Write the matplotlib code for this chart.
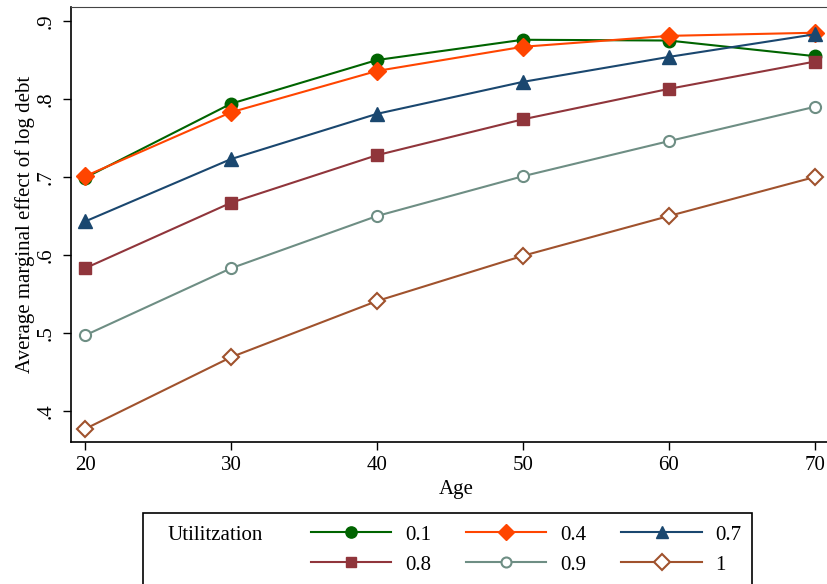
import matplotlib
matplotlib.use("Agg")
import matplotlib.pyplot as plt
from matplotlib.patches import Rectangle

plt.rcParams['font.family'] = ['Liberation Serif', 'DejaVu Serif']

# data
ages = [20, 30, 40, 50, 60, 70]
util_labels = ['0.1', '0.4', '0.7', '0.8', '0.9', '1']
u01 = [0.699, 0.794, 0.850, 0.876, 0.875, 0.855]
u04 = [0.701, 0.783, 0.836, 0.867, 0.881, 0.885]
u07 = [0.643, 0.723, 0.781, 0.822, 0.854, 0.883]
u08 = [0.583, 0.667, 0.728, 0.774, 0.813, 0.848]
u09 = [0.497, 0.583, 0.650, 0.701, 0.746, 0.790]
u10 = [0.377, 0.469, 0.541, 0.599, 0.650, 0.700]
yticks = [0.4, 0.5, 0.6, 0.7, 0.8, 0.9]
ytick_labels = ['.4', '.5', '.6', '.7', '.8', '.9']

series = [u01, u04, u07, u08, u09, u10]
colors = ['#006400', '#ff4500', '#1a476f', '#90353b', '#6e8e84', '#a0522d']
markers = ['o', 'D', '^', 's', 'o', 'D']
msizes = [9, 9.5, 10, 8.5, 8, 8.5]
filled = [True, True, True, True, False, False]

fig = plt.figure(figsize=(8.27, 5.84), dpi=100)
ax = fig.add_axes([71/827, 142/584, 770/827, 435/584])

handles = []
for ys, lab, c, m, ms, f in zip(series, util_labels, colors, markers, msizes, filled):
    h, = ax.plot(ages, ys, color=c, lw=1.5, marker=m, markersize=ms,
                 markerfacecolor=c if f else 'white',
                 markeredgecolor=c, markeredgewidth=1.5 if not f else 1,
                 label=lab, clip_on=False, zorder=3)
    handles.append(h)

ax.set_xlim(19.04, 71.8)
ax.set_ylim(0.3603, 0.918)
ax.set_xticks(ages)
ax.set_yticks(yticks)
ax.set_yticklabels(ytick_labels, rotation=90, va='center')
ax.tick_params(axis='both', direction='out', length=6, width=1, labelsize=15, pad=4)
ax.tick_params(axis='y', pad=5)
ax.spines['right'].set_visible(False)
ax.spines['top'].set_color('#444444')
ax.spines['left'].set_linewidth(1.2)
ax.spines['bottom'].set_linewidth(1.2)
ax.set_xlabel('Age', fontsize=15, labelpad=4)
ax.set_ylabel('Average marginal effect of log debt', fontsize=15, labelpad=1.5)

# legend box (extends past the bottom edge)
fig.patches.append(Rectangle((143/827, -0.05), 609/827, (584-513)/584 + 0.05,
                             transform=fig.transFigure, fill=False,
                             edgecolor='black', lw=1.2))
fig.text(167/827, 1 - 535/584, 'Utilitzation', fontsize=15, va='center', ha='left')
# legend fills column by column, so order handles for rows 0.1/0.4/0.7 and 0.8/0.9/1
order = [0, 3, 1, 4, 2, 5]
fig.legend(handles=[handles[i] for i in order], ncol=3, frameon=False, fontsize=15,
           loc='upper left', bbox_to_anchor=(311/827, 1 - 525/584),
           handlelength=3.85, handletextpad=0.67, columnspacing=1.68,
           labelspacing=0.5, markerscale=0.9, borderaxespad=0, borderpad=0)

fig.savefig('out.png', dpi=100)
